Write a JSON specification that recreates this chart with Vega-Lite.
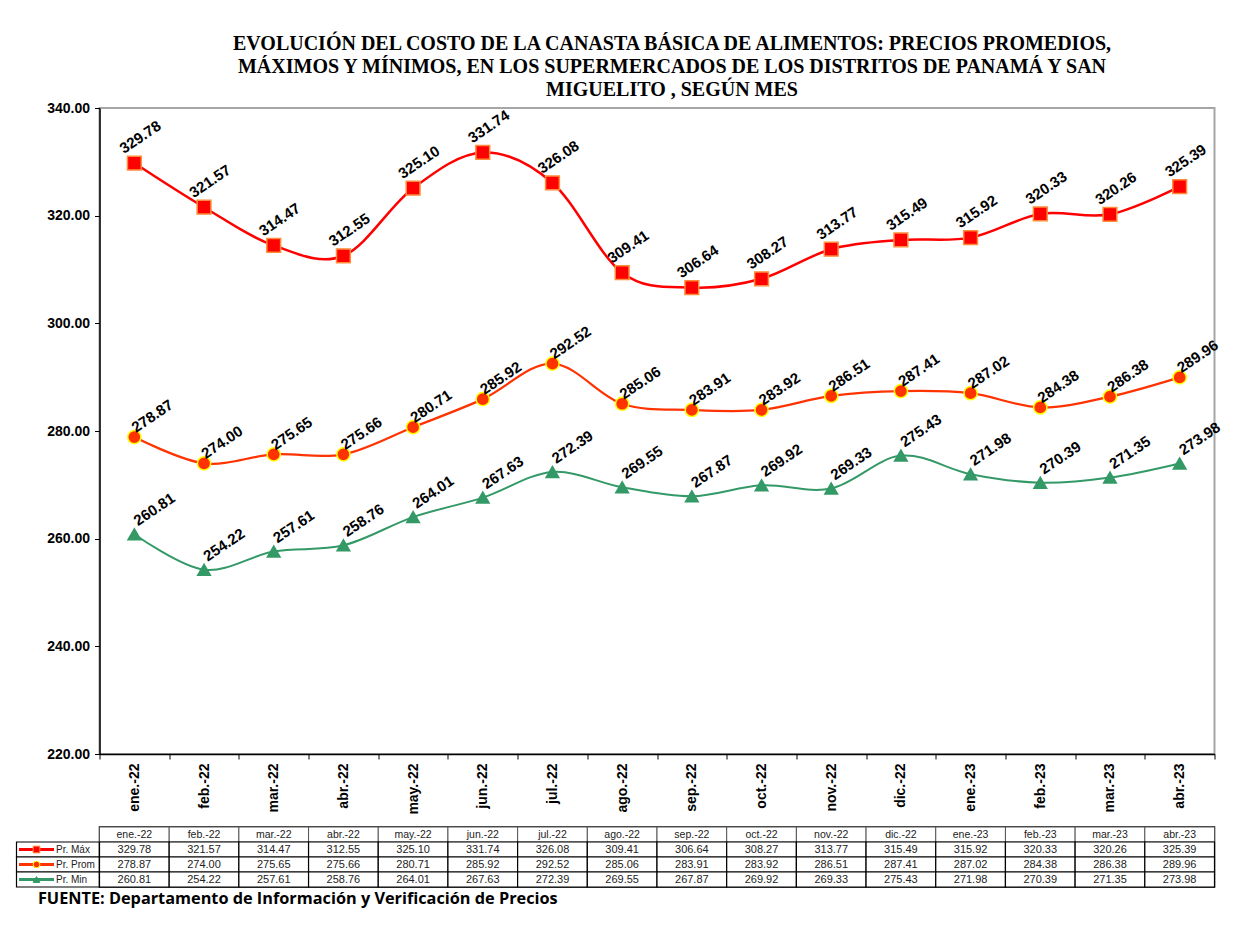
{
  "$schema": "https://vega.github.io/schema/vega-lite/v6.json",
  "padding": {"left": 15.5, "top": 33, "right": 5, "bottom": 5},
  "background": "white",
  "config": {
    "font": "Liberation Sans",
    "view": {"stroke": null},
    "axis": {"labelColor": "black", "tickColor": "black", "domainColor": "black"}
  },
  "datasets": {
    "d": [
      {"mes": "ene.-22", "serie": "Pr. Máx", "valor": 329.78},
      {"mes": "feb.-22", "serie": "Pr. Máx", "valor": 321.57},
      {"mes": "mar.-22", "serie": "Pr. Máx", "valor": 314.47},
      {"mes": "abr.-22", "serie": "Pr. Máx", "valor": 312.55},
      {"mes": "may.-22", "serie": "Pr. Máx", "valor": 325.10},
      {"mes": "jun.-22", "serie": "Pr. Máx", "valor": 331.74},
      {"mes": "jul.-22", "serie": "Pr. Máx", "valor": 326.08},
      {"mes": "ago.-22", "serie": "Pr. Máx", "valor": 309.41},
      {"mes": "sep.-22", "serie": "Pr. Máx", "valor": 306.64},
      {"mes": "oct.-22", "serie": "Pr. Máx", "valor": 308.27},
      {"mes": "nov.-22", "serie": "Pr. Máx", "valor": 313.77},
      {"mes": "dic.-22", "serie": "Pr. Máx", "valor": 315.49},
      {"mes": "ene.-23", "serie": "Pr. Máx", "valor": 315.92},
      {"mes": "feb.-23", "serie": "Pr. Máx", "valor": 320.33},
      {"mes": "mar.-23", "serie": "Pr. Máx", "valor": 320.26},
      {"mes": "abr.-23", "serie": "Pr. Máx", "valor": 325.39},
      {"mes": "ene.-22", "serie": "Pr. Prom", "valor": 278.87},
      {"mes": "feb.-22", "serie": "Pr. Prom", "valor": 274.00},
      {"mes": "mar.-22", "serie": "Pr. Prom", "valor": 275.65},
      {"mes": "abr.-22", "serie": "Pr. Prom", "valor": 275.66},
      {"mes": "may.-22", "serie": "Pr. Prom", "valor": 280.71},
      {"mes": "jun.-22", "serie": "Pr. Prom", "valor": 285.92},
      {"mes": "jul.-22", "serie": "Pr. Prom", "valor": 292.52},
      {"mes": "ago.-22", "serie": "Pr. Prom", "valor": 285.06},
      {"mes": "sep.-22", "serie": "Pr. Prom", "valor": 283.91},
      {"mes": "oct.-22", "serie": "Pr. Prom", "valor": 283.92},
      {"mes": "nov.-22", "serie": "Pr. Prom", "valor": 286.51},
      {"mes": "dic.-22", "serie": "Pr. Prom", "valor": 287.41},
      {"mes": "ene.-23", "serie": "Pr. Prom", "valor": 287.02},
      {"mes": "feb.-23", "serie": "Pr. Prom", "valor": 284.38},
      {"mes": "mar.-23", "serie": "Pr. Prom", "valor": 286.38},
      {"mes": "abr.-23", "serie": "Pr. Prom", "valor": 289.96},
      {"mes": "ene.-22", "serie": "Pr. Min", "valor": 260.81},
      {"mes": "feb.-22", "serie": "Pr. Min", "valor": 254.22},
      {"mes": "mar.-22", "serie": "Pr. Min", "valor": 257.61},
      {"mes": "abr.-22", "serie": "Pr. Min", "valor": 258.76},
      {"mes": "may.-22", "serie": "Pr. Min", "valor": 264.01},
      {"mes": "jun.-22", "serie": "Pr. Min", "valor": 267.63},
      {"mes": "jul.-22", "serie": "Pr. Min", "valor": 272.39},
      {"mes": "ago.-22", "serie": "Pr. Min", "valor": 269.55},
      {"mes": "sep.-22", "serie": "Pr. Min", "valor": 267.87},
      {"mes": "oct.-22", "serie": "Pr. Min", "valor": 269.92},
      {"mes": "nov.-22", "serie": "Pr. Min", "valor": 269.33},
      {"mes": "dic.-22", "serie": "Pr. Min", "valor": 275.43},
      {"mes": "ene.-23", "serie": "Pr. Min", "valor": 271.98},
      {"mes": "feb.-23", "serie": "Pr. Min", "valor": 270.39},
      {"mes": "mar.-23", "serie": "Pr. Min", "valor": 271.35},
      {"mes": "abr.-23", "serie": "Pr. Min", "valor": 273.98}
    ]
  },
  "data": {"name": "d"},
  "columns": 2,
  "spacing": {"column": 0, "row": 73},
  "bounds": "flush",
  "concat": [
    {
      "width": 83,
      "height": 646,
      "data": {"values": []},
      "mark": {"type": "text"}
    },
    {
      "width": 1115,
      "height": 646,
      "view": {"stroke": "#a6a6a6", "strokeWidth": 2},
      "title": {
        "text": [
          "EVOLUCIÓN DEL COSTO DE LA CANASTA BÁSICA DE ALIMENTOS: PRECIOS PROMEDIOS,",
          "MÁXIMOS Y MÍNIMOS, EN LOS SUPERMERCADOS DE LOS DISTRITOS DE PANAMÁ Y SAN",
          "MIGUELITO ,  SEGÚN MES"
        ],
        "font": "Liberation Serif",
        "fontSize": 20,
        "fontWeight": "bold",
        "lineHeight": 23,
        "anchor": "middle",
        "dx": 15,
        "offset": 1,
        "color": "black"
      },
      "encoding": {
        "x": {
          "field": "mes",
          "type": "nominal",
          "scale": {
            "type": "band",
            "domain": ["ene.-22", "feb.-22", "mar.-22", "abr.-22", "may.-22", "jun.-22", "jul.-22", "ago.-22", "sep.-22", "oct.-22", "nov.-22", "dic.-22", "ene.-23", "feb.-23", "mar.-23", "abr.-23"],
            "paddingInner": 0,
            "paddingOuter": 0
          },
          "axis": {
            "title": null,
            "labelAngle": -90,
            "labelFontWeight": "bold",
            "labelFontSize": 14,
            "tickBand": "extent",
            "tickSize": 5,
            "labelPadding": 4,
            "domainWidth": 1.5,
            "grid": false
          }
        },
        "y": {
          "field": "valor",
          "type": "quantitative",
          "scale": {"domain": [220, 340], "nice": false, "zero": false},
          "axis": {
            "title": null,
            "values": [220, 240, 260, 280, 300, 320, 340],
            "format": ".2f",
            "labelFontWeight": "bold",
            "labelFontSize": 14,
            "tickSize": 5,
            "labelPadding": 5,
            "domainWidth": 1.5,
            "grid": false
          }
        }
      },
      "layer": [
        {
          "mark": {"type": "line", "interpolate": "cardinal"},
          "encoding": {
            "color": {"field": "serie", "type": "nominal", "scale": {"domain": ["Pr. Máx", "Pr. Prom", "Pr. Min"], "range": ["#ff0000", "#ff3300", "#339966"]}, "legend": null},
            "strokeWidth": {"field": "serie", "type": "ordinal", "scale": {"domain": ["Pr. Máx", "Pr. Prom", "Pr. Min"], "range": [2.5, 2, 5]}, "legend": null}
          }
        },
        {
          "mark": {"type": "point", "filled": true, "opacity": 1, "strokeWidth": 1.5},
          "encoding": {
            "color": {"field": "serie", "type": "nominal", "scale": {"domain": ["Pr. Máx", "Pr. Prom", "Pr. Min"], "range": ["#ff0000", "#ff3300", "#339966"]}, "legend": null},
            "shape": {"field": "serie", "type": "nominal", "scale": {"domain": ["Pr. Máx", "Pr. Prom", "Pr. Min"], "range": ["square", "circle", "triangle-up"]}, "legend": null},
            "stroke": {"field": "serie", "type": "nominal", "scale": {"domain": ["Pr. Máx", "Pr. Prom", "Pr. Min"], "range": ["#ff8c3a", "#ffff00", "#339966"]}, "legend": null},
            "size": {"field": "serie", "type": "ordinal", "scale": {"domain": ["Pr. Máx", "Pr. Prom", "Pr. Min"], "range": [190, 160, 120]}, "legend": null}
          }
        },
        {
          "transform": [{"filter": "datum.serie == 'Pr. Máx'"}],
          "mark": {"type": "text", "angle": 326, "align": "center", "baseline": "middle", "fontSize": 15, "fontWeight": "bold", "xOffset": 6, "yOffset": -26, "color": "black"},
          "encoding": {"text": {"field": "valor", "type": "quantitative", "format": ".2f"}}
        },
        {
          "transform": [{"filter": "datum.serie == 'Pr. Prom'"}],
          "mark": {"type": "text", "angle": 326, "align": "center", "baseline": "middle", "fontSize": 15, "fontWeight": "bold", "xOffset": 18, "yOffset": -21, "color": "black"},
          "encoding": {"text": {"field": "valor", "type": "quantitative", "format": ".2f"}}
        },
        {
          "transform": [{"filter": "datum.serie == 'Pr. Min'"}],
          "mark": {"type": "text", "angle": 326, "align": "center", "baseline": "middle", "fontSize": 15, "fontWeight": "bold", "xOffset": 20, "yOffset": -25, "color": "black"},
          "encoding": {"text": {"field": "valor", "type": "quantitative", "format": ".2f"}}
        }
      ]
    },
    {
      "width": 83,
      "height": 60,
      "transform": [{"filter": "datum.mes == 'ene.-22'"}],
      "title": {
        "text": "FUENTE:  Departamento de Información y Verificación de Precios",
        "orient": "bottom",
        "anchor": "start",
        "dx": 22,
        "offset": 3,
        "font": "Open Sans",
        "fontSize": 16.3,
        "fontWeight": "bold",
        "color": "black"
      },
      "encoding": {
        "y": {"field": "serie", "type": "nominal", "scale": {"type": "band", "domain": ["hdr", "Pr. Máx", "Pr. Prom", "Pr. Min"], "paddingInner": 0, "paddingOuter": 0}, "axis": null}
      },
      "layer": [
        {"mark": {"type": "rect", "fill": "white", "stroke": "black", "strokeWidth": 1.2}},
        {
          "mark": {"type": "point", "shape": "M-1,-0.085H1V0.085H-1Z", "size": 1225, "filled": true, "opacity": 1, "xOffset": -21.5},
          "encoding": {"color": {"field": "serie", "type": "nominal", "scale": {"domain": ["Pr. Máx", "Pr. Prom", "Pr. Min"], "range": ["#ff0000", "#ff3300", "#339966"]}, "legend": null}}
        },
        {
          "mark": {"type": "point", "filled": true, "opacity": 1, "size": 45, "strokeWidth": 1, "xOffset": -21.5},
          "encoding": {
            "color": {"field": "serie", "type": "nominal", "scale": {"domain": ["Pr. Máx", "Pr. Prom", "Pr. Min"], "range": ["#ff0000", "#ff3300", "#339966"]}, "legend": null},
            "shape": {"field": "serie", "type": "nominal", "scale": {"domain": ["Pr. Máx", "Pr. Prom", "Pr. Min"], "range": ["square", "circle", "triangle-up"]}, "legend": null},
            "stroke": {"field": "serie", "type": "nominal", "scale": {"domain": ["Pr. Máx", "Pr. Prom", "Pr. Min"], "range": ["#ff8c3a", "#ffff00", "#339966"]}, "legend": null}
          }
        },
        {
          "mark": {"type": "text", "align": "left", "baseline": "middle", "fontSize": 10, "xOffset": -2, "color": "#222222"},
          "encoding": {"text": {"field": "serie", "type": "nominal"}}
        }
      ]
    },
    {
      "width": 1115,
      "height": 60,
      "view": {"stroke": "black", "strokeWidth": 1.5},
      "encoding": {
        "x": {
          "field": "mes",
          "type": "nominal",
          "scale": {
            "type": "band",
            "domain": ["ene.-22", "feb.-22", "mar.-22", "abr.-22", "may.-22", "jun.-22", "jul.-22", "ago.-22", "sep.-22", "oct.-22", "nov.-22", "dic.-22", "ene.-23", "feb.-23", "mar.-23", "abr.-23"],
            "paddingInner": 0,
            "paddingOuter": 0
          },
          "axis": null
        }
      },
      "layer": [
        {
          "transform": [{"filter": "datum.serie == 'Pr. Máx'"}],
          "mark": {"type": "rect", "fill": "white", "stroke": "#555555", "strokeWidth": 1},
          "encoding": {"y": {"datum": "hdr", "type": "nominal", "scale": {"type": "band", "domain": ["hdr", "Pr. Máx", "Pr. Prom", "Pr. Min"], "paddingInner": 0, "paddingOuter": 0}, "axis": null}}
        },
        {
          "mark": {"type": "rect", "fill": "white", "stroke": "black", "strokeWidth": 1.2},
          "encoding": {"y": {"field": "serie", "type": "nominal", "scale": {"type": "band", "domain": ["hdr", "Pr. Máx", "Pr. Prom", "Pr. Min"], "paddingInner": 0, "paddingOuter": 0}, "axis": null}}
        },
        {
          "transform": [{"filter": "datum.serie == 'Pr. Máx'"}],
          "mark": {"type": "text", "fontSize": 10.5, "color": "#222222", "baseline": "middle"},
          "encoding": {
            "y": {"datum": "hdr", "type": "nominal", "scale": {"type": "band", "domain": ["hdr", "Pr. Máx", "Pr. Prom", "Pr. Min"], "paddingInner": 0, "paddingOuter": 0}, "axis": null},
            "text": {"field": "mes", "type": "nominal"}
          }
        },
        {
          "mark": {"type": "text", "fontSize": 11, "color": "#222222", "baseline": "middle"},
          "encoding": {
            "y": {"field": "serie", "type": "nominal", "scale": {"type": "band", "domain": ["hdr", "Pr. Máx", "Pr. Prom", "Pr. Min"], "paddingInner": 0, "paddingOuter": 0}, "axis": null},
            "text": {"field": "valor", "type": "quantitative", "format": ".2f"}
          }
        }
      ]
    }
  ]
}
